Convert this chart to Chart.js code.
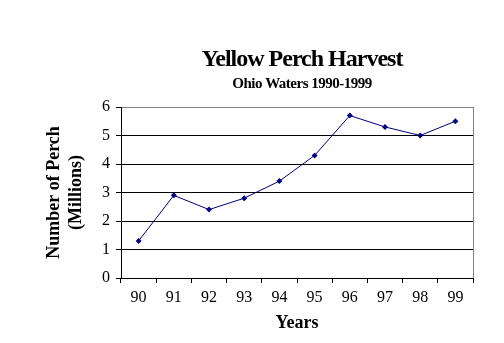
<!DOCTYPE html>
<html>
<head>
<meta charset="utf-8">
<title>Yellow Perch Harvest</title>
<script src="https://cdn.jsdelivr.net/npm/chart.js@4/dist/chart.umd.min.js"></script>
<style>
  body { margin: 0; background: #fff; }
  canvas { display: block; }
</style>
</head>
<body>
<canvas id="perchChart" width="504" height="343"></canvas>
<script>
// values
const years = ['90', '91', '92', '93', '94', '95', '96', '97', '98', '99'];
const perchMillions = [1.3, 2.9, 2.4, 2.8, 3.4, 4.3, 5.7, 5.3, 5.0, 5.5];
const yTicks = [0, 1, 2, 3, 4, 5, 6];

const serif = '"Liberation Serif", "Times New Roman", serif';

// titles are drawn over the plot-area centre, like the Excel original
const titlePlugin = {
    id: 'titles',
    beforeDraw(chart) {
        const ctx = chart.ctx;
        ctx.save();
        ctx.fillStyle = '#fff';
        ctx.fillRect(0, 0, chart.width, chart.height);
        ctx.fillStyle = '#000';
        ctx.textAlign = 'center';
        ctx.textBaseline = 'alphabetic';
        ctx.font = 'bold 24px ' + serif;
        ctx.letterSpacing = '-1px';
        ctx.fillText('Yellow Perch Harvest', 302, 66);
        ctx.font = 'bold 15px ' + serif;
        ctx.letterSpacing = '-0.5px';
        ctx.fillText('Ohio Waters 1990-1999', 302, 88);
        ctx.restore();
    }
};

new Chart(document.getElementById('perchChart'), {
    type: 'line',
    data: {
        labels: years,
        datasets: [{
            data: perchMillions,
            borderColor: '#000080',
            backgroundColor: '#000080',
            borderWidth: 1,
            pointStyle: 'rectRot',
            pointRadius: 3,
            pointBorderWidth: 0,
            tension: 0
        }]
    },
    options: {
        responsive: false,
        animation: false,
        layout: { padding: { top: 107, right: 31, bottom: 0, left: 0 } },
        plugins: {
            legend: { display: false },
            title: { display: false },
            tooltip: { enabled: false }
        },
        scales: {
            x: {
                type: 'category',
                offset: true,
                afterFit: s => { s.height = 65; },
                grid: {
                    offset: true,
                    color: c => c.index === undefined ? '#808080' : 'rgba(0,0,0,0)',
                    tickColor: '#000',
                    tickLength: 5,
                    lineWidth: 1
                },
                border: { color: '#000', width: 1 },
                ticks: {
                    color: '#000',
                    padding: 5,
                    maxRotation: 0,
                    font: { family: serif, size: 16 }
                },
                title: {
                    display: true,
                    text: 'Years',
                    color: '#000',
                    font: { family: serif, size: 18, weight: 'bold' },
                    padding: { top: 0, bottom: 9 }
                }
            },
            y: {
                min: 0,
                max: 6,
                afterFit: s => { s.width = 121; },
                afterBuildTicks: s => { s.ticks = yTicks.map(v => ({ value: v })); },
                grid: {
                    color: c => (c.tick && c.tick.value === 6) ? '#808080' : '#000',
                    tickColor: '#000',
                    tickLength: 5,
                    lineWidth: 1
                },
                border: { color: '#000', width: 1 },
                ticks: {
                    color: '#000',
                    padding: 6,
                    font: { family: serif, size: 16 }
                },
                title: {
                    display: true,
                    text: ['Number of Perch', '(Millions)'],
                    color: '#000',
                    font: { family: serif, size: 18, weight: 'bold', lineHeight: 1.2 },
                    padding: { top: 44, bottom: 0 }
                }
            }
        }
    },
    plugins: [titlePlugin]
});
</script>
</body>
</html>
